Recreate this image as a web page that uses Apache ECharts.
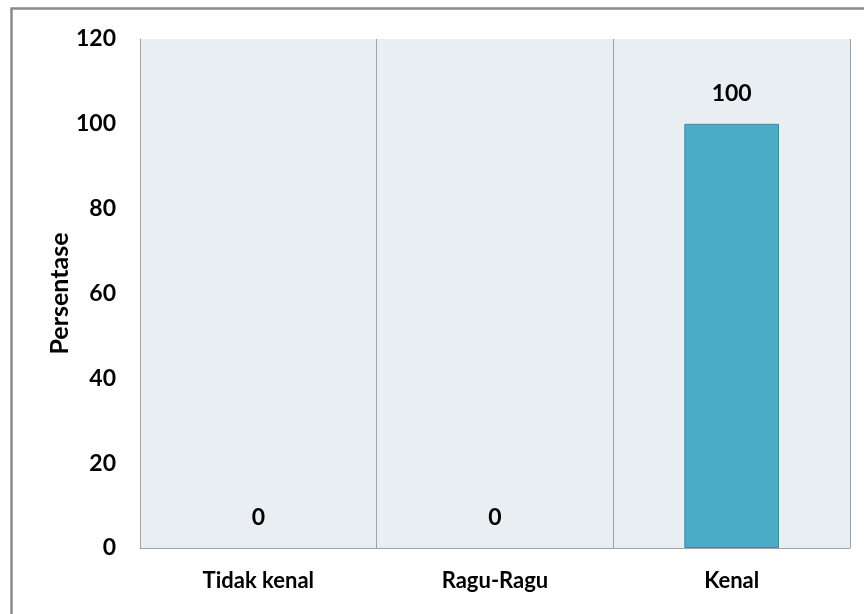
<!DOCTYPE html>
<html>
<head>
<meta charset="utf-8">
<script src="https://cdn.jsdelivr.net/npm/echarts@6/dist/echarts.min.js"></script>
<style>html,body{margin:0;padding:0;background:#fff}#c{width:864px;height:614px}</style>
</head>
<body>
<div id="c"></div>
<script>
const categories = ['Tidak kenal', 'Ragu-Ragu', 'Kenal'];
const values = [0, 0, 100];
const yTitle = 'Persentase';

const FONT = 'Lato';
const chart = echarts.init(document.getElementById('c'), null, {renderer: 'canvas'});
chart.setOption({
  animation: false,
  backgroundColor: '#ffffff',
  graphic: [{
    type: 'rect', left: 9, top: 6, z: 100,
    shape: {width: 880, height: 640},
    style: {fill: 'none', stroke: '#8a8a8a', lineWidth: 2.5}
  }],
  grid: {left: 140, right: 14, top: 39, bottom: 66, show: true, backgroundColor: '#E8EEF2', borderWidth: 0},
  xAxis: {
    type: 'category', data: categories,
    axisLine: {show: true, lineStyle: {color: '#a0a4a8', width: 1}},
    axisTick: {show: false},
    splitLine: {show: true, lineStyle: {color: '#a0a4a8', width: 1}},
    axisLabel: {color: '#000', fontFamily: FONT, fontWeight: 'bold', fontSize: 22, margin: 22}
  },
  yAxis: {
    type: 'value', min: 0, max: 120, interval: 20,
    name: yTitle, nameLocation: 'middle', nameGap: 68, nameRotate: 90,
    nameMoveOverlap: false,
    nameTextStyle: {color: '#000', fontFamily: FONT, fontWeight: 'bold', fontSize: 25},
    axisLine: {show: true, lineStyle: {color: '#a0a4a8', width: 1}},
    axisTick: {show: false},
    splitLine: {show: false},
    axisLabel: {color: '#000', fontFamily: FONT, fontWeight: 'bold', fontSize: 23, margin: 24}
  },
  series: [{
    type: 'bar',
    data: values.map(v => ({value: v, itemStyle: v === 0 ? {borderWidth: 0} : {}})),
    barWidth: '40%',
    itemStyle: {color: '#4BACC6', borderColor: '#3A8BA2', borderWidth: 1},
    label: {show: true, position: 'top', distance: 19, color: '#000', fontFamily: FONT, fontWeight: 'bold', fontSize: 23}
  }]
});
</script>
</body>
</html>
